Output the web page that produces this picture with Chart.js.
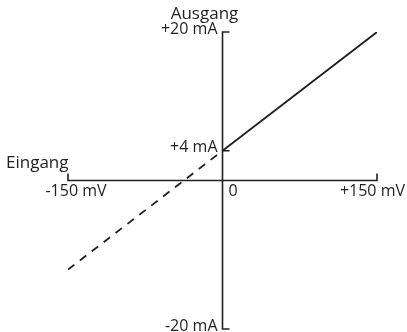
<!DOCTYPE html>
<html>
<head>
<meta charset="utf-8">
<script src="https://cdn.jsdelivr.net/npm/chart.js@4/dist/chart.umd.min.js"></script>
<style>
  html, body { margin: 0; padding: 0; background: #fff; }
  #wrap { width: 407px; height: 332px; }
</style>
</head>
<body>
<div id="wrap"><canvas id="c" width="407" height="332"></canvas></div>
<script>
// Transfer characteristic: input voltage (mV) -> output current (mA)
const activeInput = [0, 150];
const activeOutput = [4, 20];
const extrapInput = [-150, 0];
const extrapOutput = [-12, 4];

// Axis ranges and tick labels
const xRange = [-150, 150];
const yRange = [-20, 20];
const xTicks = [-150, 0, 150];
const xTickLabels = ['-150 mV', '0', '+150 mV'];
const yTicks = [20, 4, -20];
const yTickLabels = ['+20 mA', '+4 mA', '-20 mA'];
const xTitle = 'Eingang';
const yTitle = 'Ausgang';

const INK = '#231f20';
const FONT = '"Open Sans", "Noto Sans", sans-serif';

function toPoints(xs, ys) { return xs.map((x, i) => ({ x: x, y: ys[i] })); }

// Cross-shaped axes with end ticks, drawn from the chart's scales
const crossAxes = {
  id: 'crossAxes',
  beforeDatasetsDraw(chart) {
    const { ctx, scales: { x, y } } = chart;
    const x0 = x.getPixelForValue(0);
    const y0 = y.getPixelForValue(0);
    const xl = x.getPixelForValue(xRange[0]);
    const xr = x.getPixelForValue(xRange[1]);
    const yt = y.getPixelForValue(yRange[1]);
    const yb = y.getPixelForValue(yRange[0]);
    const t = 7;
    ctx.save();
    ctx.strokeStyle = INK;
    ctx.lineWidth = 1.6;
    ctx.lineCap = 'butt';
    ctx.beginPath();
    // horizontal axis with upward end ticks
    ctx.moveTo(xl, y0 - t); ctx.lineTo(xl, y0); ctx.lineTo(xr, y0); ctx.lineTo(xr, y0 - t);
    // vertical axis with rightward end ticks
    ctx.moveTo(x0 + t, yt); ctx.lineTo(x0, yt); ctx.lineTo(x0, yb); ctx.lineTo(x0 + t, yb);
    // inner tick marks
    yTicks.forEach(v => {
      if (v !== yRange[0] && v !== yRange[1]) {
        const py = y.getPixelForValue(v);
        ctx.moveTo(x0, py); ctx.lineTo(x0 + t, py);
      }
    });
    ctx.stroke();

    ctx.fillStyle = INK;
    ctx.font = '16px ' + FONT;
    // y tick labels, right-aligned left of the axis
    ctx.textAlign = 'right';
    ctx.textBaseline = 'middle';
    yTicks.forEach((v, i) => {
      ctx.fillText(yTickLabels[i], x0 - 5, y.getPixelForValue(v) - 3);
    });
    // x tick labels below the axis
    ctx.textBaseline = 'top';
    xTicks.forEach((v, i) => {
      const px = x.getPixelForValue(v);
      if (v === 0) { ctx.textAlign = 'left'; ctx.fillText(xTickLabels[i], px + 6, y0 + 3); }
      else if (v > 0) { ctx.textAlign = 'right'; ctx.fillText(xTickLabels[i], chart.width - 2, y0 + 3); }
      else { ctx.textAlign = 'center'; ctx.fillText(xTickLabels[i], px + 8, y0 + 3); }
    });
    // axis titles
    ctx.font = '17px ' + FONT;
    ctx.textAlign = 'left';
    ctx.textBaseline = 'alphabetic';
    ctx.fillText(xTitle, 6, y0 - 13);
    ctx.textAlign = 'center';
    ctx.fillText(yTitle, x0 - 18, yt - 13);
    ctx.restore();
  }
};

new Chart(document.getElementById('c'), {
  type: 'scatter',
  data: {
    datasets: [
      {
        data: toPoints(activeInput, activeOutput),
        showLine: true,
        borderColor: INK,
        borderWidth: 1.8,
        pointRadius: 0,
        fill: false
      },
      {
        data: toPoints(extrapInput, extrapOutput),
        showLine: true,
        borderColor: INK,
        borderWidth: 1.8,
        borderDash: [8, 7],
        pointRadius: 0,
        fill: false
      }
    ]
  },
  options: {
    responsive: false,
    animation: false,
    devicePixelRatio: 1,
    layout: { padding: { left: 68, right: 30, top: 32, bottom: 3 } },
    plugins: { legend: { display: false }, tooltip: { enabled: false } },
    scales: {
      x: { type: 'linear', min: xRange[0], max: xRange[1], display: false },
      y: { type: 'linear', min: yRange[0], max: yRange[1], display: false }
    }
  },
  plugins: [crossAxes]
});
</script>
</body>
</html>
